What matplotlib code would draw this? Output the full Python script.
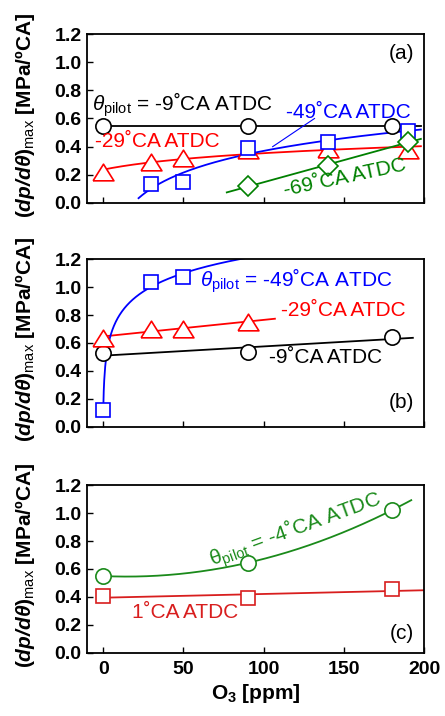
import numpy as np
import matplotlib.pyplot as plt

plt.rcParams['font.family'] = ['Liberation Sans', 'DejaVu Sans']
plt.rcParams['mathtext.fontset'] = 'custom'
plt.rcParams['mathtext.rm'] = 'Liberation Sans'
plt.rcParams['mathtext.it'] = 'Liberation Sans:italic'
plt.rcParams['mathtext.bf'] = 'Liberation Sans:bold'
plt.rcParams['mathtext.bfit'] = 'Liberation Sans:italic:bold'
plt.rcParams['mathtext.sf'] = 'Liberation Sans'

# (a) pilot timing sweep
a_o3_m9 = [0, 90, 180]
a_m9 = [0.546, 0.546, 0.546]
a_o3_m29 = [0, 30, 50, 90, 140, 190]
a_m29 = [0.22, 0.293, 0.322, 0.373, 0.38, 0.374]
a_o3_m49 = [30, 50, 90, 140, 190]
a_m49 = [0.135, 0.151, 0.388, 0.435, 0.514]
a_o3_m69 = [90, 140, 190]
a_m69 = [0.121, 0.263, 0.435]

# (b)
b_o3_m9 = [0, 90, 180]
b_m9 = [0.525, 0.537, 0.644]
b_o3_m29 = [0, 30, 50, 90]
b_m29 = [0.638, 0.70, 0.70, 0.751]
b_o3_m49 = [0, 30, 50]
b_m49 = [0.12, 1.037, 1.069]

# (c)
c_o3_m4 = [0, 90, 180]
c_m4 = [0.549, 0.644, 1.021]
c_o3_p1 = [0, 90, 180]
c_p1 = [0.406, 0.394, 0.454]

x_ticks = [0, 50, 100, 150, 200]
y_ticks = [0.0, 0.2, 0.4, 0.6, 0.8, 1.0, 1.2]

BLACK = 'black'
RED = '#ff0000'
BLUE = '#0000ff'
GREEN = '#008000'
RED_C = '#d81e1e'
GREEN_C = '#1a8a1a'

TRI = [(-1, -0.8), (1, -0.8), (0, 0.8), (-1, -0.8)]


def lin_fit(x, y, x0, x1):
    p = np.polyfit(x, y, 1)
    xx = np.linspace(x0, x1, 200)
    return xx, np.polyval(p, xx)


def log_fit(x, y, c, x0, x1):
    p = np.polyfit(np.log(np.asarray(x, float) + c), y, 1)
    xx = np.linspace(x0, x1, 400)
    return xx, np.polyval(p, np.log(xx + c))


def quad_fit(x, y, x0, x1):
    p = np.polyfit(x, y, 2)
    xx = np.linspace(x0, x1, 200)
    return xx, np.polyval(p, xx)


def series(ax, x, y, fit, color, marker, ms):
    ax.plot(fit[0], fit[1], color=color, lw=1.3, zorder=2)
    ax.plot(x, y, ls='none', marker=marker, ms=ms, mfc='white',
            mec=color, mew=1.2, zorder=3)


def style(ax, show_x):
    ax.set_xlim(-10, 200)
    ax.set_ylim(0, 1.2)
    ax.set_xticks(x_ticks)
    ax.set_yticks(y_ticks)
    ax.set_yticklabels([f'{v:.1f}' for v in y_ticks])
    ax.tick_params(direction='in', length=4, width=1, labelsize=14, pad=4)
    for lab in ax.get_yticklabels() + ax.get_xticklabels():
        lab.set_fontweight('bold')
    if not show_x:
        ax.set_xticklabels([])
    for s in ax.spines.values():
        s.set_linewidth(1.3)
    ax.set_ylabel(r'$\mathbf{(}\mathbfit{dp/d\theta}\mathbf{)}_{\mathsf{max}}$ [MPa/ºCA]',
                  fontsize=15, fontweight='bold')
    ax.yaxis.set_label_coords(-0.15, 0.52)


fig = plt.figure(figsize=(4.45, 7.16), dpi=100)
ax_a = fig.add_axes([0.196, 0.7165, 0.757, 0.236])
ax_b = fig.add_axes([0.196, 0.404, 0.757, 0.234])
ax_c = fig.add_axes([0.196, 0.0884, 0.757, 0.234])

fs = 15

# ---- (a)
series(ax_a, a_o3_m9, a_m9, lin_fit(a_o3_m9, a_m9, 0, 198), BLACK, 'o', 11)
series(ax_a, a_o3_m29, a_m29, log_fit(a_o3_m29, a_m29, 40, 0, 198), RED, TRI, 15)
series(ax_a, a_o3_m49, a_m49, log_fit(a_o3_m49, a_m49, 0, 22, 198), BLUE, 's', 10)
series(ax_a, a_o3_m69, a_m69, lin_fit(a_o3_m69, a_m69, 77, 198), GREEN, 'D', 10)
style(ax_a, False)
ax_a.text(-7, 0.655, r'$\theta_{\mathrm{pilot}}$ = -9˚CA ATDC', color=BLACK, fontsize=fs)
ax_a.text(-5, 0.40, '-29˚CA ATDC', color=RED, fontsize=fs)
ax_a.text(114, 0.607, '-49˚CA ATDC', color=BLUE, fontsize=fs)
ax_a.plot([131.7, 105.6], [0.60, 0.40], color=BLUE, lw=0.8)
ax_a.text(113, 0.05, '-69˚CA ATDC', color=GREEN, fontsize=fs, rotation=12,
          rotation_mode='anchor', ha='left', va='baseline')
ax_a.text(186, 1.06, '(a)', fontsize=fs, ha='center', va='center')

# ---- (b)
series(ax_b, b_o3_m9, b_m9, lin_fit(b_o3_m9, b_m9, 0, 193), BLACK, 'o', 11)
series(ax_b, b_o3_m29, b_m29, lin_fit(b_o3_m29, b_m29, 0, 107), RED, TRI, 15)
series(ax_b, b_o3_m49, b_m49, log_fit(b_o3_m49, b_m49, 0.3, 0, 120), BLUE, 's', 10)
style(ax_b, False)
ax_b.text(60, 1.0, r'$\theta_{\mathrm{pilot}}$ = -49˚CA ATDC', color=BLUE, fontsize=fs)
ax_b.text(111, 0.79, '-29˚CA ATDC', color=RED, fontsize=fs)
ax_b.text(103.5, 0.453, '-9˚CA ATDC', color=BLACK, fontsize=fs)
ax_b.text(186, 0.172, '(b)', fontsize=fs, ha='center', va='center')

# ---- (c)
series(ax_c, c_o3_m4, c_m4, quad_fit(c_o3_m4, c_m4, 0, 192), GREEN_C, 'o', 11)
series(ax_c, c_o3_p1, c_p1, lin_fit(c_o3_p1, c_p1, 0, 200), RED_C, 's', 10)
style(ax_c, True)
ax_c.tick_params(axis='x', pad=6)
ax_c.text(68, 0.62, r'$\mathrm{\theta}_{\mathrm{pilot}}$ = -4˚CA ATDC', color=GREEN_C,
          fontsize=fs, rotation=20, rotation_mode='anchor', ha='left', va='baseline')
ax_c.text(18, 0.246, '1˚CA ATDC', color=RED_C, fontsize=fs)
ax_c.text(186, 0.139, '(c)', fontsize=fs, ha='center', va='center')
ax_c.set_xlabel(r'O$_{\mathbf{3}}$ [ppm]', fontsize=15, fontweight='bold', labelpad=3)

fig.savefig('out.png', dpi=100)
